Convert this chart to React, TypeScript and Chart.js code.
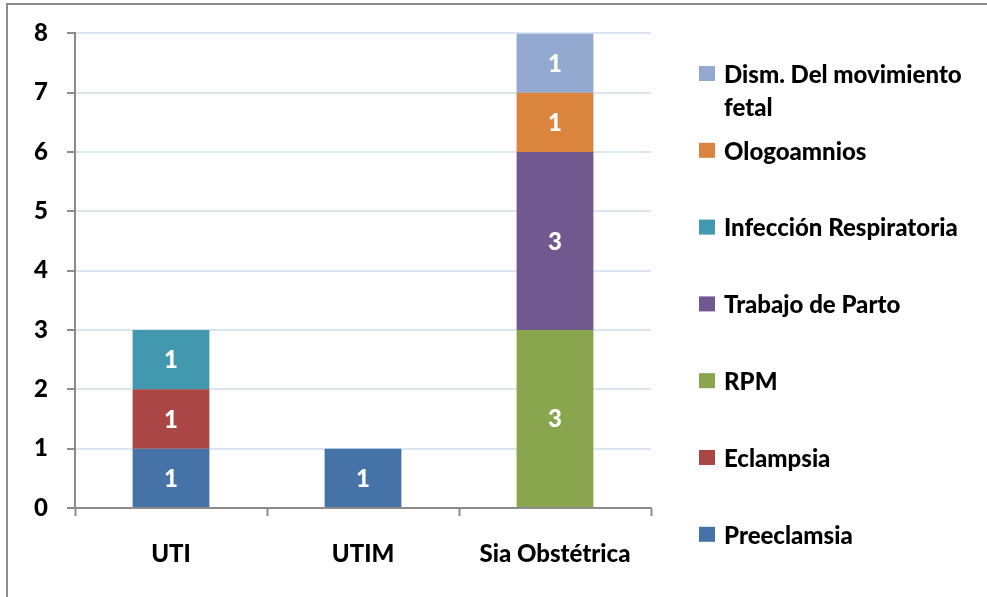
import React, { useEffect, useRef } from "react";
import { Chart, registerables } from "chart.js";

Chart.register(...registerables);

const categories = ["UTI", "UTIM", "Sia Obstétrica"];
const seriesNames = [
  "Preeclamsia",
  "Eclampsia",
  "RPM",
  "Trabajo de Parto",
  "Infección Respiratoria",
  "Ologoamnios",
  "Dism. Del movimiento fetal",
];
const preeclamsia = [1, 1, null];
const eclampsia = [1, null, null];
const rpm = [null, null, 3];
const trabajoParto = [null, null, 3];
const infeccionResp = [1, null, null];
const ologoamnios = [null, null, 1];
const dismMovimiento = [null, null, 1];
const seriesValues = [preeclamsia, eclampsia, rpm, trabajoParto, infeccionResp, ologoamnios, dismMovimiento];
const seriesColors = ["#4572A7", "#AA4643", "#89A54E", "#71588F", "#4198AF", "#DB843D", "#93A9CF"];
const yTicks = [0, 1, 2, 3, 4, 5, 6, 7, 8];

const FONT_FAMILY = "Lato, 'Open Sans', sans-serif";
const FONT_SIZE = 24;
const FONT_WEIGHT = "900";

const barLabels = {
  id: "barLabels",
  afterDatasetsDraw(chart: any) {
    const ctx = chart.ctx;
    ctx.save();
    ctx.fillStyle = "#ffffff";
    ctx.font = `${FONT_WEIGHT} ${FONT_SIZE}px ${FONT_FAMILY}`;
    ctx.textAlign = "center";
    ctx.textBaseline = "middle";
    chart.data.datasets.forEach((ds: any, di: number) => {
      const meta = chart.getDatasetMeta(di);
      meta.data.forEach((el: any, i: number) => {
        const v = ds.data[i];
        if (v === null || v === undefined) return;
        ctx.fillText(String(v), el.x, (el.y + el.base) / 2 + 1);
      });
    });
    ctx.restore();
  },
};

const frameAndLegend = {
  id: "frameAndLegend",
  afterDraw(chart: any) {
    const ctx = chart.ctx;
    ctx.save();
    ctx.strokeStyle = "#8c8c8c";
    ctx.lineWidth = 2;
    ctx.beginPath();
    ctx.moveTo(7, 600);
    ctx.lineTo(7, 4);
    ctx.lineTo(990, 4);
    ctx.stroke();

    ctx.font = `${FONT_WEIGHT} ${FONT_SIZE}px ${FONT_FAMILY}`;
    ctx.textBaseline = "middle";
    ctx.textAlign = "left";
    const startY = 74;
    const step = 76.8;
    const maxW = 255;
    const n = chart.data.datasets.length;
    for (let k = 0; k < n; k++) {
      const di = n - 1 - k;
      const ds = chart.data.datasets[di];
      const y = startY + k * step;
      ctx.fillStyle = ds.backgroundColor;
      ctx.fillRect(699, y - 8, 16, 15);
      const words = String(ds.label).split(" ");
      const lines: string[] = [];
      let cur = "";
      words.forEach((w) => {
        const t = cur ? cur + " " + w : w;
        if (ctx.measureText(t).width > maxW && cur) {
          lines.push(cur);
          cur = w;
        } else cur = t;
      });
      if (cur) lines.push(cur);
      ctx.fillStyle = "#000000";
      lines.forEach((ln, li) => ctx.fillText(ln, 724, y + 1 + li * 33));
    }
    ctx.restore();
  },
};

export default function App() {
  const ref = useRef<HTMLCanvasElement | null>(null);
  useEffect(() => {
    document.body.style.margin = "0";
    const canvas = ref.current!;
    const chart = new Chart(canvas, {
      type: "bar",
      data: {
        labels: categories,
        datasets: seriesNames.map((name, i) => ({
          label: name,
          data: seriesValues[i],
          backgroundColor: seriesColors[i],
          borderWidth: 0,
          categoryPercentage: 1,
          barPercentage: 0.4,
        })),
      },
      options: {
        animation: false,
        responsive: false,
        maintainAspectRatio: false,
        layout: { padding: { left: 0, top: 33, right: 336, bottom: 0 } },
        plugins: {
          legend: { display: false },
          tooltip: { enabled: false },
        },
        scales: {
          x: {
            stacked: true,
            grid: {
              display: true,
              drawOnChartArea: false,
              drawTicks: true,
              tickLength: 8,
              tickColor: "#8c8c8c",
              tickWidth: 2,
              offset: true,
            },
            border: { display: true, color: "#8c8c8c", width: 2 },
            ticks: {
              color: "#000000",
              font: { family: FONT_FAMILY, size: FONT_SIZE, weight: FONT_WEIGHT },
              padding: 24,
              maxRotation: 0,
              autoSkip: false,
            },
            afterFit(scale: any) {
              scale.height = 89;
            },
          },
          y: {
            stacked: true,
            min: 0,
            max: 8,
            afterBuildTicks(scale: any) {
              scale.ticks = yTicks.map((v) => ({ value: v }));
            },
            grid: {
              color: "#dce6f2",
              lineWidth: 2,
              tickLength: 8,
              tickColor: "#8c8c8c",
              tickWidth: 2,
            },
            border: { display: true, color: "#8c8c8c", width: 2 },
            ticks: {
              color: "#000000",
              font: { family: FONT_FAMILY, size: FONT_SIZE, weight: FONT_WEIGHT },
              padding: 19,
            },
            afterFit(scale: any) {
              scale.width = 75;
            },
          },
        },
      },
      plugins: [barLabels, frameAndLegend],
    });
    return () => chart.destroy();
  }, []);
  return (
    <div style={{ position: "relative", width: 987, height: 597, background: "#ffffff" }}>
      <canvas ref={ref} width={987} height={597} style={{ display: "block" }} />
    </div>
  );
}
